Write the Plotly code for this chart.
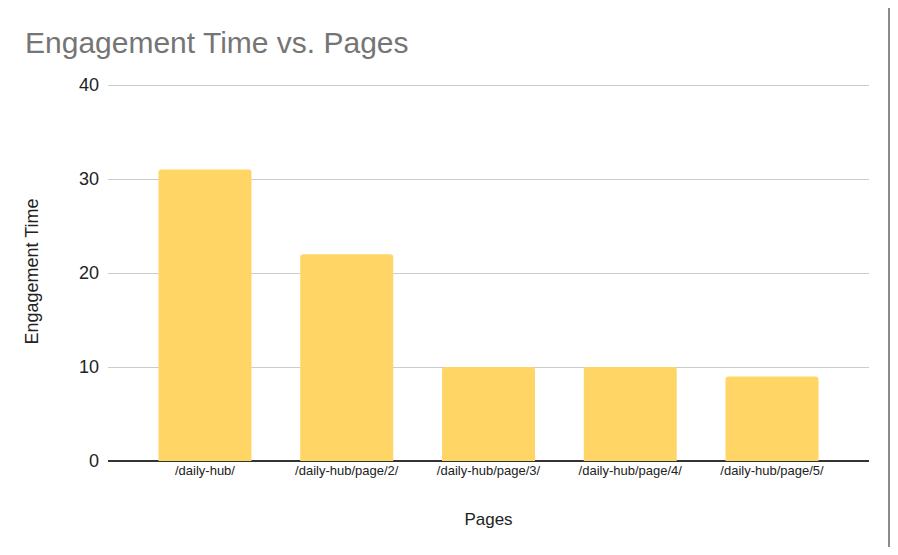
import plotly.graph_objects as go

pages = ["/daily-hub/", "/daily-hub/page/2/", "/daily-hub/page/3/", "/daily-hub/page/4/", "/daily-hub/page/5/"]
engagement_time = [31, 22, 10, 10, 9]
y_ticks = [0, 10, 20, 30, 40]

FONT = "Liberation Sans, Arial, sans-serif"

# page body has an 8px default margin, so the figure is sized to fit within it
W, H = 890, 539
ML, MR, MT, MB = 100, 29, 74, 86
PW, PH = W - ML - MR, H - MT - MB

fig = go.Figure(
    go.Bar(
        x=pages,
        y=engagement_time,
        marker=dict(color="#FFD666", line=dict(width=0)),
        hoverinfo="x+y",
    )
)

fig.update_layout(
    width=W,
    height=H,
    paper_bgcolor="white",
    plot_bgcolor="white",
    margin=dict(l=ML, r=MR, t=MT, b=MB),
    bargap=0.344,
    barcornerradius=3,
    showlegend=False,
    title=dict(
        text="Engagement Time vs. Pages",
        x=17 / W,
        xanchor="left",
        y=1 - 34 / H,
        yanchor="middle",
        font=dict(family=FONT, size=30, color="#757575"),
    ),
    font=dict(family=FONT, color="#222222"),
)

fig.update_xaxes(
    range=[-0.684, 4.684],
    showgrid=False,
    showline=False,
    ticks="",
    tickfont=dict(size=13, color="#222222"),
    title=dict(text="Pages", font=dict(size=17, color="#222222"), standoff=36),
    fixedrange=True,
)

fig.update_yaxes(
    range=[0, 40.32],
    tickvals=y_ticks,
    showgrid=True,
    gridcolor="#CCCCCC",
    gridwidth=1,
    zeroline=True,
    zerolinecolor="#333333",
    zerolinewidth=1.5,
    showline=False,
    ticks="",
    ticklabelstandoff=8,
    tickfont=dict(size=18, color="#222222"),
    title=dict(text="Engagement Time", font=dict(size=18, color="#222222"), standoff=35),
    fixedrange=True,
)

fig.add_shape(
    type="line",
    xref="paper",
    yref="paper",
    x0=1 + 20 / PW,
    x1=1 + 20 / PW,
    y0=-(MB + 8) / PH,
    y1=1 + MT / PH,
    line=dict(color="#8A8A8A", width=2),
    layer="above",
)

fig.write_html("out.html")
